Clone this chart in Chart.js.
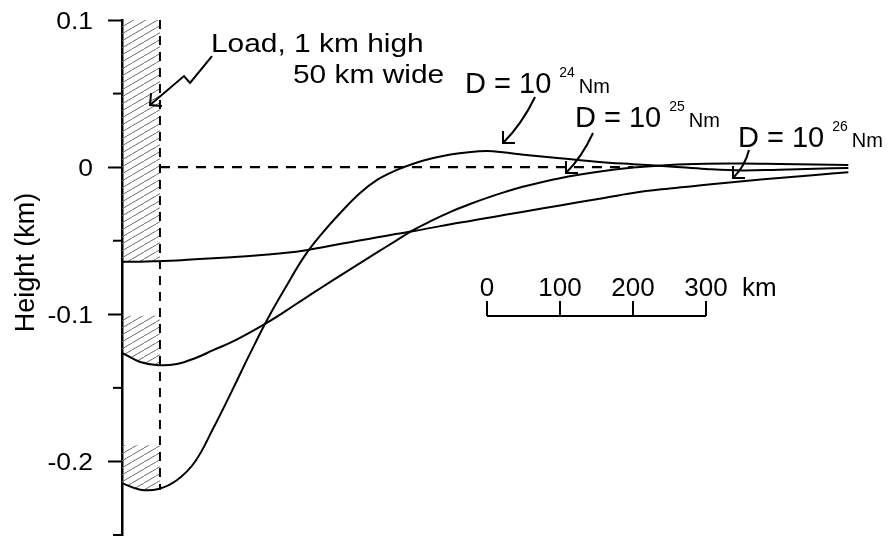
<!DOCTYPE html>
<html lang="en">
<head>
<meta charset="UTF-8">
<title>Flexure under a line load</title>
<script src="https://cdn.jsdelivr.net/npm/chart.js"></script>
<style>
  body { margin: 0; background: #fff; }
</style>
</head>
<body>
<canvas id="flexChart" width="888" height="537"></canvas>
<script>
// distance from the load (km) and surface height (km) for three flexural rigidities
const distanceKm = [0, 25, 50, 75, 100, 125, 150, 175, 200, 225, 250, 275, 300, 325, 350, 375, 400, 425, 450, 475, 500, 525, 550, 600, 650, 700, 750, 800, 850, 900, 950, 995];
const heightD24 = [-0.2148, -0.2192, -0.2187, -0.2128, -0.2002, -0.1775, -0.1527, -0.1271, -0.1027, -0.081, -0.0605, -0.0445, -0.0306, -0.018, -0.0085, -0.0022, 0.0025, 0.006, 0.0086, 0.0102, 0.0109, 0.0099, 0.0085, 0.0061, 0.0037, 0.002, 0.0005, -0.0013, -0.0023, -0.0017, -0.0011, -0.0005];
const heightD25 = [-0.1262, -0.1324, -0.1346, -0.1338, -0.1299, -0.1244, -0.1189, -0.1124, -0.1053, -0.0975, -0.0893, -0.0813, -0.0734, -0.0656, -0.0578, -0.0501, -0.0425, -0.0362, -0.0304, -0.0254, -0.0209, -0.0168, -0.0132, -0.0075, -0.0033, -0.0003, 0.0015, 0.0023, 0.0024, 0.0021, 0.0018, 0.0014];
const heightD26 = [-0.0643, -0.0643, -0.0639, -0.0634, -0.0626, -0.0619, -0.0612, -0.0604, -0.0594, -0.0582, -0.0566, -0.0544, -0.0521, -0.0499, -0.0477, -0.0455, -0.0434, -0.0411, -0.0388, -0.0367, -0.0346, -0.0324, -0.0303, -0.026, -0.0218, -0.0175, -0.0145, -0.012, -0.0096, -0.0073, -0.0053, -0.0035];

// load block edge and the top of each hatched load (D26, D25, D24)
const loadEdgeKm = 52;
const hatchTops = [0.1, -0.101, -0.189];
const zeroLineEndKm = 700;

const yTickValues = [-0.25, -0.2, -0.15, -0.1, -0.05, 0, 0.05, 0.1];
const yTickLabels = ['', '-0.2', '', '-0.1', '', '0', '', '0.1'];

const scaleBarStartKm = 500;
const scaleBarLabels = ['0', '100', '200', '300'];

const FONT = '"Liberation Sans", Arial, sans-serif';

// annotation anchors in data units (km, height)
const loadArrow = [[123.3, 0.0755], [93.2, 0.0572], [84.9, 0.0619], [38.4, 0.0422]];
const rigidityLabels = [
    { exp: '24', at: [469.9, 0.0504], arrow: [[565.8, 0.0477], [547.9, 0.0293], [521.9, 0.0164]] },
    { exp: '25', at: [620.5, 0.0273], arrow: [[645.2, 0.0232], [630.1, 0.0069], [608.2, -0.004]] },
    { exp: '26', at: [843.8, 0.0137], arrow: [[858.9, 0.0117], [853.4, 0.0008], [837.0, -0.0074]] }
];

function pts(values) {
    return distanceKm.map((d, i) => ({ x: d, y: values[i] }));
}

function hatchPattern(ctx) {
    const tile = document.createElement('canvas');
    tile.width = 12;
    tile.height = 7;
    const t = tile.getContext('2d');
    t.strokeStyle = '#6b6b6b';
    t.lineWidth = 1;
    for (const dx of [-12, 0, 12]) {
        t.beginPath();
        t.moveTo(dx, 7);
        t.lineTo(dx + 12, 0);
        t.stroke();
    }
    return ctx.createPattern(tile, 'repeat');
}

function drawText(ctx, text, x, y, size, stretch, align) {
    ctx.save();
    ctx.font = size + 'px ' + FONT;
    ctx.textAlign = align || 'left';
    ctx.textBaseline = 'alphabetic';
    ctx.fillStyle = '#000';
    ctx.translate(x, y);
    ctx.scale(stretch || 1, 1);
    ctx.fillText(text, 0, 0);
    ctx.restore();
}

function textWidth(ctx, text, size) {
    ctx.save();
    ctx.font = size + 'px ' + FONT;
    const w = ctx.measureText(text).width;
    ctx.restore();
    return w;
}

function arrowHead(ctx, tx, ty, fx, fy) {
    const a = Math.atan2(ty - fy, tx - fx) + Math.PI;
    ctx.beginPath();
    ctx.moveTo(tx + 12 * Math.cos(a - 0.78), ty + 12 * Math.sin(a - 0.78));
    ctx.lineTo(tx, ty);
    ctx.lineTo(tx + 12 * Math.cos(a + 0.78), ty + 12 * Math.sin(a + 0.78));
    ctx.stroke();
}

const annotations = {
    id: 'annotations',
    afterDatasetsDraw(chart) {
        const ctx = chart.ctx;
        const xs = chart.scales.x, ys = chart.scales.y;
        const px = v => xs.getPixelForValue(v);
        const py = v => ys.getPixelForValue(v);
        const area = chart.chartArea;

        ctx.save();
        ctx.strokeStyle = '#000';
        ctx.lineWidth = 2;
        ctx.lineCap = 'butt';

        // height axis labels (slightly wide, as in the original) and minor ticks
        yTickValues.forEach((v, i) => {
            if (yTickLabels[i] === '') {
                ctx.beginPath();
                ctx.moveTo(area.left - 9, py(v));
                ctx.lineTo(area.left, py(v));
                ctx.stroke();
            } else {
                drawText(ctx, yTickLabels[i], area.left - 29, py(v) + 9, 23, 1.15, 'right');
            }
        });

        // axis title
        ctx.save();
        ctx.translate(25, (area.top + area.bottom) / 2 - 15);
        ctx.rotate(-Math.PI / 2);
        drawText(ctx, 'Height (km)', 0, 9, 27, 1, 'center');
        ctx.restore();

        // load label with zig-zag arrow
        drawText(ctx, 'Load, 1 km high', px(121.9), py(0.0785), 26, 1.15);
        drawText(ctx, '50 km wide', px(234.2), py(0.057), 26, 1.15);
        ctx.beginPath();
        loadArrow.forEach((p, i) => {
            if (i === 0) ctx.moveTo(px(p[0]), py(p[1]));
            else ctx.lineTo(px(p[0]), py(p[1]));
        });
        ctx.stroke();
        const n = loadArrow.length;
        arrowHead(ctx, px(loadArrow[n - 1][0]), py(loadArrow[n - 1][1]),
            px(loadArrow[n - 2][0]), py(loadArrow[n - 2][1]));

        // rigidity labels and curved arrows
        rigidityLabels.forEach(l => {
            const x = px(l.at[0]), y = py(l.at[1]);
            drawText(ctx, 'D = 10', x, y, 29);
            const w = textWidth(ctx, 'D = 10', 29);
            drawText(ctx, l.exp, x + w + 8, y - 16, 14);
            const w2 = textWidth(ctx, l.exp, 14);
            drawText(ctx, 'Nm', x + w + 8 + w2 + 4, y, 20);

            const [s, c, t] = l.arrow;
            ctx.beginPath();
            ctx.moveTo(px(s[0]), py(s[1]));
            ctx.quadraticCurveTo(px(c[0]), py(c[1]), px(t[0]), py(t[1]));
            ctx.stroke();
            arrowHead(ctx, px(t[0]), py(t[1]), px(c[0]), py(c[1]));
        });

        // distance scale bar
        const barY = py(-0.1012), tickTop = py(-0.091);
        const x0 = px(scaleBarStartKm), x1 = px(scaleBarStartKm + 300);
        ctx.beginPath();
        ctx.moveTo(x0, barY);
        ctx.lineTo(x1, barY);
        scaleBarLabels.forEach((lab, i) => {
            const x = px(scaleBarStartKm + i * 100);
            ctx.moveTo(x, barY);
            ctx.lineTo(x, tickTop);
        });
        ctx.stroke();
        scaleBarLabels.forEach((lab, i) => {
            drawText(ctx, lab, px(scaleBarStartKm + i * 100), py(-0.0876), 26, 1, 'center');
        });
        drawText(ctx, 'km', px(849.3), py(-0.0876), 26);

        ctx.restore();
    }
};

const ctx = document.getElementById('flexChart').getContext('2d');
const hatch = hatchPattern(ctx);

const curve = (values) => ({
    data: pts(values),
    borderColor: '#000',
    borderWidth: 2,
    pointRadius: 0,
    tension: 0.4,
    fill: false
});

new Chart(ctx, {
    type: 'line',
    data: {
        datasets: [
            curve(heightD24),
            curve(heightD25),
            curve(heightD26),
            {
                data: [{ x: loadEdgeKm, y: 0.1 }, { x: loadEdgeKm, y: Math.min(...heightD24) }],
                borderColor: '#000', borderWidth: 2, borderDash: [9, 7], pointRadius: 0, fill: false
            },
            {
                data: [{ x: loadEdgeKm, y: 0 }, { x: zeroLineEndKm, y: 0 }],
                borderColor: '#000', borderWidth: 2.2, borderDash: [10, 8], pointRadius: 0, fill: false
            },
            {
                data: [{ x: 0, y: hatchTops[0] }, { x: loadEdgeKm, y: hatchTops[0] }],
                borderWidth: 0, borderColor: 'rgba(0,0,0,0)', pointRadius: 0,
                backgroundColor: hatch, fill: { target: 2 }
            },
            {
                data: [{ x: 0, y: hatchTops[1] }, { x: loadEdgeKm, y: hatchTops[1] }],
                borderWidth: 0, borderColor: 'rgba(0,0,0,0)', pointRadius: 0,
                backgroundColor: hatch, fill: { target: 1 }
            },
            {
                data: [{ x: 0, y: hatchTops[2] }, { x: loadEdgeKm, y: hatchTops[2] }],
                borderWidth: 0, borderColor: 'rgba(0,0,0,0)', pointRadius: 0,
                backgroundColor: hatch, fill: { target: 0 }
            }
        ]
    },
    options: {
        responsive: false,
        animation: false,
        layout: { padding: { top: 20, right: 36, bottom: 2, left: 0 } },
        plugins: { legend: { display: false }, tooltip: { enabled: false } },
        scales: {
            x: { type: 'linear', min: 0, max: 1000, display: false },
            y: {
                min: -0.25,
                max: 0.1,
                afterBuildTicks: s => { s.ticks = yTickValues.map(v => ({ value: v })); },
                afterFit: s => {
                    s.width = 122;
                    s.paddingTop = 0;
                    s.paddingBottom = 0;
                },
                border: { display: true, color: '#000', width: 2.5 },
                grid: {
                    drawOnChartArea: false,
                    tickLength: 14,
                    tickWidth: 2,
                    tickColor: c => (c.tick && yTickLabels[c.index] !== '') ? '#000' : 'rgba(0,0,0,0)'
                },
                ticks: { display: false }
            }
        }
    },
    plugins: [annotations]
});
</script>
</body>
</html>
